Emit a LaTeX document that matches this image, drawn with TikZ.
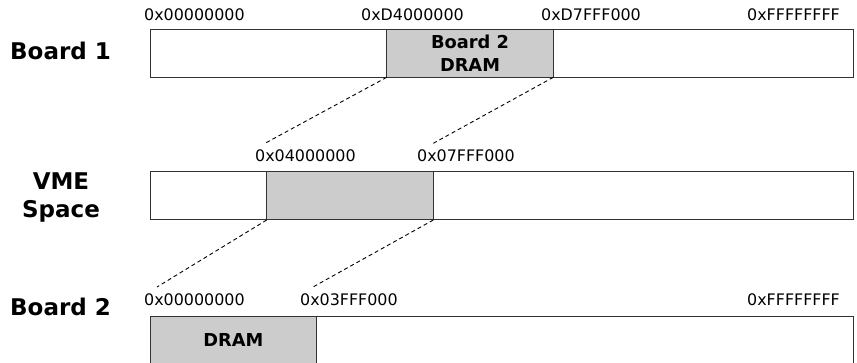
\documentclass[tikz,border=0pt]{standalone}
\usepackage{fontspec}
\setmainfont{DejaVu Sans}
\definecolor{segline}{HTML}{333333}
\definecolor{segfill}{HTML}{CCCCCC}
\begin{document}
\begin{tikzpicture}[x=1pt,y=-1pt,
  seg/.style={draw=segline,line width=1pt,fill=white,rectangle,inner sep=0pt,outer sep=0pt,anchor=north west},
  dramseg/.style={seg,fill=segfill,align=center,font=\fontsize{17.8}{23}\selectfont\bfseries},
  addr/.style={anchor=base west,inner sep=0pt,font=\fontsize{15.9}{18}\selectfont},
  title/.style={inner sep=0pt,font=\fontsize{23}{28}\selectfont\bfseries},
  leader/.style={draw=black,line width=0.9pt,dash pattern=on 4pt off 3pt}]
\clip (0,0) rectangle (857,363);
% Board 1
\node[seg,minimum width=236pt,minimum height=48pt] (b1a) at (150.7,29.3) {};
\node[dramseg,minimum width=166.6pt,minimum height=48pt] (b1dram) at (386.7,29.3) {Board 2\\DRAM};
\node[seg,minimum width=300pt,minimum height=48pt] (b1b) at (553.3,29.3) {};
\node[title,anchor=base west] (t1) at (10,60) {Board 1};
\node[addr] (a1) at (144,21) {0x00000000};
\node[addr] (a2) at (361,21) {0xD4000000};
\node[addr] (a3) at (541,21) {0xD7FFF000};
\node[addr] (a4) at (747,21) {0xFFFFFFFF};
% VME
\node[seg,minimum width=116pt,minimum height=48.3pt] (va) at (150.7,171.7) {};
\node[dramseg,minimum width=166.6pt,minimum height=48.3pt] (vdram) at (266.7,171.7) {};
\node[seg,minimum width=419.7pt,minimum height=48.3pt] (vb) at (433.3,171.7) {};
\node[title,align=center,anchor=base] (tv) at (61,218) {VME\\Space};
\node[addr] (a5) at (255,162) {0x04000000};
\node[addr] (a6) at (417,162) {0x07FFF000};
% Board 2
\node[dramseg,minimum width=166.7pt,minimum height=48pt,text depth=2pt] (b2dram) at (150,316.7) {DRAM};
\node[seg,minimum width=536.3pt,minimum height=48pt] (b2b) at (316.7,316.7) {};
\node[title,anchor=base west] (t2) at (10,316) {Board 2};
\node[addr] (a7) at (144,306) {0x00000000};
\node[addr] (a8) at (300,306) {0x03FFF000};
\node[addr] (a9) at (747,306) {0xFFFFFFFF};
% leader lines
\coordinate (c1) at (265,143.3);
\coordinate (c2) at (433.3,143.3);
\coordinate (c3) at (157,287);
\coordinate (c4) at (313,287);
\draw[leader] (b1dram.south west) -- (c1);
\draw[leader] (b1dram.south east) -- (c2);
\draw[leader] (vdram.south west) -- (c3);
\draw[leader] (vdram.south east) -- (c4);
\end{tikzpicture}
\end{document}
